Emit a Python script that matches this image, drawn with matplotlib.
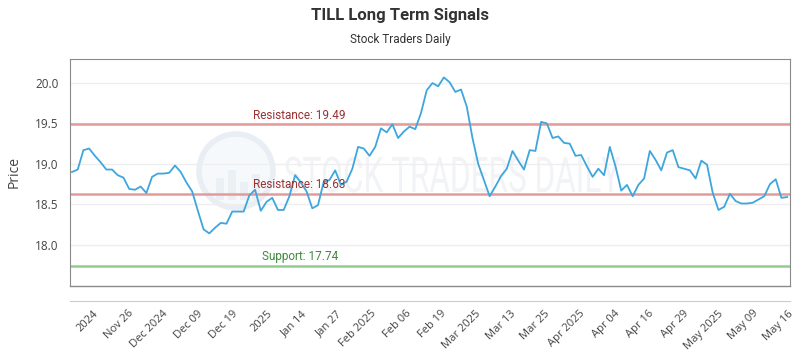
import matplotlib.pyplot as plt
from matplotlib.patches import Circle, PathPatch, Rectangle
from matplotlib.textpath import TextPath
from matplotlib.font_manager import FontProperties
import matplotlib.transforms as mtransforms

# daily closes, oldest first
prices = [
    18.90, 18.93, 19.17, 19.19, 19.10, 19.02, 18.93, 18.93, 18.86, 18.83,
    18.69, 18.68, 18.72, 18.64, 18.84, 18.88, 18.88, 18.89, 18.98, 18.90,
    18.77, 18.66, 18.42, 18.19, 18.14, 18.21, 18.27, 18.26, 18.41, 18.41,
    18.41, 18.61, 18.68, 18.42, 18.53, 18.58, 18.43, 18.43, 18.60, 18.86,
    18.77, 18.66, 18.45, 18.49, 18.78, 18.80, 18.92, 18.74, 18.78, 18.94,
    19.21, 19.19, 19.10, 19.21, 19.44, 19.39, 19.49, 19.32, 19.40, 19.46,
    19.43, 19.63, 19.91, 20.00, 19.96, 20.07, 20.01, 19.89, 19.92, 19.71,
    19.32, 19.00, 18.80, 18.60, 18.72, 18.85, 18.94, 19.16, 19.04, 18.93,
    19.17, 19.16, 19.52, 19.50, 19.32, 19.34, 19.26, 19.25, 19.10, 19.11,
    18.97, 18.84, 18.94, 18.86, 19.21, 18.97, 18.67, 18.74, 18.60, 18.74,
    18.82, 19.16, 19.05, 18.92, 19.14, 19.17, 18.96, 18.94, 18.92, 18.82,
    19.04, 18.99, 18.64, 18.43, 18.47, 18.63, 18.54, 18.51, 18.51, 18.52,
    18.56, 18.60, 18.75, 18.81, 18.58, 18.59,
]

tick_labels = [
    "2024", "Nov 26", "Dec 2024", "Dec 09", "Dec 19", "2025", "Jan 14",
    "Jan 27", "Feb 2025", "Feb 06", "Feb 19", "Mar 2025", "Mar 13", "Mar 25",
    "Apr 2025", "Apr 04", "Apr 16", "Apr 29", "May 2025", "May 09", "May 16",
]

y_ticks = [18.0, 18.5, 19.0, 19.5, 20.0]

resistance_high = 19.49
resistance_low = 18.63
support = 17.74

body_font = ["Open Sans", "DejaVu Sans"]

fig = plt.figure(figsize=(8, 3.5), dpi=100)
ax = fig.add_axes([0.0875, 0.183, 0.9, 0.649])
ax.set_zorder(2)
ax.patch.set_alpha(0)

fig.text(0.5, 0.955, "TILL Long Term Signals", ha="center", va="center",
         fontsize=12, fontweight="bold", color="#333333", family="Roboto")
fig.text(0.5, 0.886, "Stock Traders Daily", ha="center", va="center",
         fontsize=8.5, color="#333333", family="Roboto")

# watermark behind the axes: ring logo plus squeezed lettering, pixel space
to_px = mtransforms.IdentityTransform()
fig.patches.append(Circle((236, 350 - 171), 37, transform=to_px,
                          facecolor="#f6f9fb", edgecolor="#e8eef4", lw=4,
                          zorder=0))
for bx, bh in [(216, 22), (228, 30), (240, 18), (252, 26)]:
    fig.patches.append(Rectangle((bx, 350 - 200), 8, bh, transform=to_px,
                                 facecolor="#ebf0f5", edgecolor="none",
                                 zorder=0))
fig.lines.append(plt.Line2D([206, 222, 236, 248, 266],
                            [350 - 178, 350 - 160, 350 - 168, 350 - 152,
                             350 - 162],
                            transform=to_px, color="#e4eaf0", lw=2, zorder=0))

wm = TextPath((0, 0), "STOCK TRADERS DAILY",
              prop=FontProperties(family="Roboto"), size=10)
ext = wm.get_extents()
wm_tr = (mtransforms.Affine2D().translate(-ext.x0, 0)
         .scale(335 / ext.width, 35 / 7.1).translate(285, 350 - 192))
fig.patches.append(PathPatch(wm, transform=wm_tr, facecolor="#f1f3f6",
                             edgecolor="none", zorder=0))

# spines first: moving a spine rebuilds the axis ticks
for side in ["left", "top", "right"]:
    ax.spines[side].set_color("#8a8a8a")
ax.spines["bottom"].set_position(("outward", 11))
ax.spines["bottom"].set_color("#cccccc")
ax.plot([0, 1], [0, 0], transform=ax.transAxes, color="#8a8a8a",
        lw=1, clip_on=False, zorder=5)

x = range(len(prices))
ax.plot(x, prices, color="#3ea6dc", lw=1.3, zorder=3)

for level, colour in [(resistance_high, "#e59a9a"), (resistance_low, "#e59a9a"),
                      (support, "#93cc8f")]:
    ax.axhline(level, color=colour, lw=1.8, zorder=2)

lab = mtransforms.blended_transform_factory(ax.transAxes, ax.transData)
ax.text(0.319, resistance_high + 0.03, f"Resistance: {resistance_high:.2f}",
        transform=lab, ha="center", va="bottom", fontsize=8.5,
        color="#9a3030", family="Roboto", zorder=4)
ax.text(0.319, resistance_low + 0.03, f"Resistance: {resistance_low:.2f}",
        transform=lab, ha="center", va="bottom", fontsize=8.5,
        color="#9a3030", family="Roboto", zorder=4)
ax.text(0.319, support + 0.03, f"Support: {support:.2f}",
        transform=lab, ha="center", va="bottom", fontsize=8.5,
        color="#3c8a3c", family="Roboto", zorder=4)

ax.set_xlim(-0.35, len(prices) - 0.5)
ax.set_ylim(17.49, 20.3)
ax.grid(axis="y", color="#eeeeee", lw=1, zorder=1)

ax.tick_params(axis="both", length=0, labelcolor="#444444")
ax.tick_params(axis="x", pad=5, labelsize=8)
ax.tick_params(axis="y", pad=8, labelsize=8.5)

ax.set_yticks(y_ticks)
ax.set_yticklabels([f"{v:.1f}" for v in y_ticks], family=body_font)
ax.set_xticks([3.7 + 6.07 * k for k in range(len(tick_labels))])
ax.set_xticklabels(tick_labels, family=body_font, rotation=45, ha="right",
                   rotation_mode="anchor")

ax.set_ylabel("Price", fontsize=10, color="#444444", family=body_font,
              labelpad=10)

fig.savefig("out.png", dpi=100)
